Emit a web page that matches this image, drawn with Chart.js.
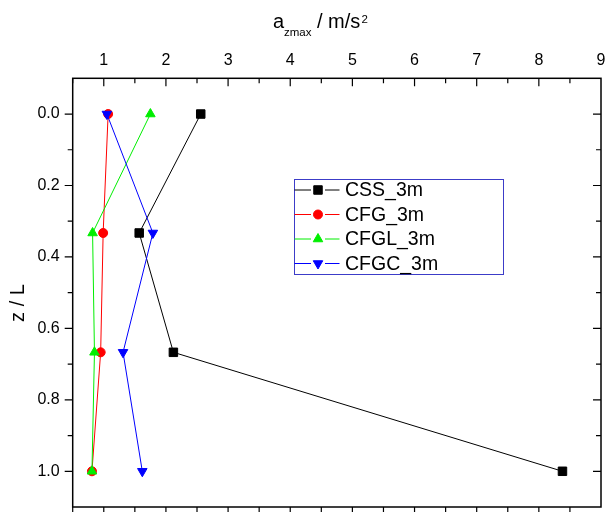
<!DOCTYPE html>
<html>
<head>
<meta charset="utf-8">
<script src="https://cdn.jsdelivr.net/npm/chart.js@4.4.1/dist/chart.umd.min.js"></script>
<style>
  html, body { margin: 0; padding: 0; background: #fff; }
  #wrap { width: 606px; height: 512px; }
</style>
</head>
<body>
<div id="wrap"><canvas id="chart" width="606" height="512"></canvas></div>
<script>
// z / L positions (y axis)
const depth = [0, 0.333, 0.667, 1.0];
// a_zmax values per series (x axis)
const cssVals = [2.56, 1.57, 2.12, 8.38];
const cfgVals = [1.07, 0.99, 0.95, 0.81];
const cfglVals = [1.75, 0.82, 0.85, 0.81];
const cfgcVals = [1.05, 1.79, 1.31, 1.62];
const seriesNames = ['CSS_3m', 'CFG_3m', 'CFGL_3m', 'CFGC_3m'];
const xTicks = [1, 2, 3, 4, 5, 6, 7, 8, 9];
const yTicks = [0, 0.2, 0.4, 0.6, 0.8, 1.0];

const FONT = 'Liberation Sans, Arial, sans-serif';

function makeSet(name, vals, color, style, radius, rot) {
    return {
        label: name,
        data: depth.map((d, i) => ({ x: vals[i], y: d })),
        showLine: true,
        borderColor: color,
        backgroundColor: color,
        borderWidth: 1,
        pointStyle: style,
        pointRadius: radius,
        pointRotation: rot || 0,
        pointBorderWidth: 1,
        pointBorderColor: color,
        pointBackgroundColor: color,
        tension: 0
    };
}

// pas de marge automatique autour des étiquettes
function noPad(s) {
    s.paddingTop = 0;
    s.paddingBottom = 0;
    s.paddingLeft = 0;
    s.paddingRight = 0;
}

// cadre + graduations (majeures et mineures)
const frameTicks = {
    id: 'frameTicks',
    afterDraw(chart) {
        const { ctx, chartArea: a, scales: { x, y } } = chart;
        ctx.save();
        ctx.strokeStyle = '#000';
        ctx.lineWidth = 1.5;
        ctx.strokeRect(a.left, a.top, a.right - a.left, a.bottom - a.top);
        ctx.lineWidth = 1.2;
        ctx.beginPath();
        for (let k = 1; k <= 17; k++) {
            const v = k * 0.5;
            const px = x.getPixelForValue(v);
            const len = (k % 2 === 0) ? 8 : 5;
            ctx.moveTo(px, a.top);
            ctx.lineTo(px, a.top + len);
            ctx.moveTo(px, a.bottom);
            ctx.lineTo(px, a.bottom + 8);
        }
        for (let k = 0; k <= 10; k++) {
            const v = k * 0.1;
            const py = y.getPixelForValue(v);
            const len = (k % 2 === 0) ? 8 : 5;
            ctx.moveTo(a.left, py);
            ctx.lineTo(a.left - len, py);
            ctx.moveTo(a.right, py);
            ctx.lineTo(a.right - len, py);
        }
        ctx.stroke();

        // titres des axes
        ctx.fillStyle = '#000';
        ctx.textBaseline = 'alphabetic';
        ctx.textAlign = 'left';
        ctx.font = '20px ' + FONT;
        ctx.fillText('a', 273, 28.3);
        ctx.font = '11.5px ' + FONT;
        ctx.fillText('zmax', 284, 35.7);
        ctx.font = '20px ' + FONT;
        ctx.fillText('/ m/s', 317, 28.3);
        ctx.font = '11.5px ' + FONT;
        ctx.fillText('2', 361.5, 23.3);

        ctx.save();
        ctx.translate(18, 303);
        ctx.rotate(-Math.PI / 2);
        ctx.font = '20px ' + FONT;
        ctx.textAlign = 'center';
        ctx.textBaseline = 'middle';
        ctx.fillText('z / L', 0, 0);
        ctx.restore();

        // légende
        ctx.strokeStyle = '#3c3cc8';
        ctx.lineWidth = 1;
        ctx.strokeRect(294.5, 179.5, 209, 95);
        const sets = chart.data.datasets;
        sets.forEach((ds, i) => {
            const ly = 190 + i * 24.5;
            ctx.strokeStyle = ds.borderColor;
            ctx.lineWidth = 1;
            ctx.beginPath();
            ctx.moveTo(294.5, ly);
            ctx.lineTo(311, ly);
            ctx.moveTo(325, ly);
            ctx.lineTo(339.5, ly);
            ctx.stroke();
            ctx.fillStyle = ds.backgroundColor;
            Chart.helpers.drawPoint(ctx, {
                pointStyle: ds.pointStyle,
                radius: ds.pointRadius,
                rotation: ds.pointRotation,
                borderWidth: 1
            }, 318, ly);
            ctx.fillStyle = '#000';
            ctx.font = '19.5px ' + FONT;
            ctx.textAlign = 'left';
            ctx.textBaseline = 'middle';
            ctx.fillText(ds.label, 345, ly + 1);
        });
        ctx.restore();
    }
};

new Chart(document.getElementById('chart'), {
    type: 'scatter',
    data: {
        datasets: [
            Object.assign(makeSet(seriesNames[0], cssVals, '#000000', 'rect', 6), { order: 4 }),
            Object.assign(makeSet(seriesNames[1], cfgVals, '#ff0000', 'circle', 4.5), { order: 3 }),
            Object.assign(makeSet(seriesNames[2], cfglVals, '#00ee00', 'triangle', 5.5), { order: 2 }),
            Object.assign(makeSet(seriesNames[3], cfgcVals, '#0000ff', 'triangle', 5.5, 180), { order: 1 })
        ]
    },
    options: {
        responsive: false,
        animation: false,
        layout: { autoPadding: false, padding: { left: 0, right: 5, top: 0, bottom: 5 } },
        plugins: {
            legend: { display: false },
            tooltip: { enabled: false }
        },
        scales: {
            x: {
                type: 'linear',
                position: 'top',
                min: 0.5,
                max: 9,
                afterBuildTicks: s => { s.ticks = xTicks.map(v => ({ value: v })); },
                afterFit: s => { s.height = 78.3; noPad(s); },
                grid: { display: false, drawTicks: false },
                border: { display: false },
                ticks: {
                    font: { family: FONT, size: 16 },
                    color: '#000',
                    padding: 8,
                    maxRotation: 0,
                    autoSkip: false
                }
            },
            y: {
                type: 'linear',
                reverse: true,
                min: -0.1,
                max: 1.1,
                afterBuildTicks: s => { s.ticks = yTicks.map(v => ({ value: v })); },
                afterFit: s => { s.width = 72.7; noPad(s); },
                grid: { display: false, drawTicks: false },
                border: { display: false },
                ticks: {
                    font: { family: FONT, size: 16 },
                    color: '#000',
                    padding: 13,
                    autoSkip: false,
                    callback: v => v.toFixed(1)
                }
            }
        }
    },
    plugins: [frameTicks]
});
</script>
</body>
</html>
